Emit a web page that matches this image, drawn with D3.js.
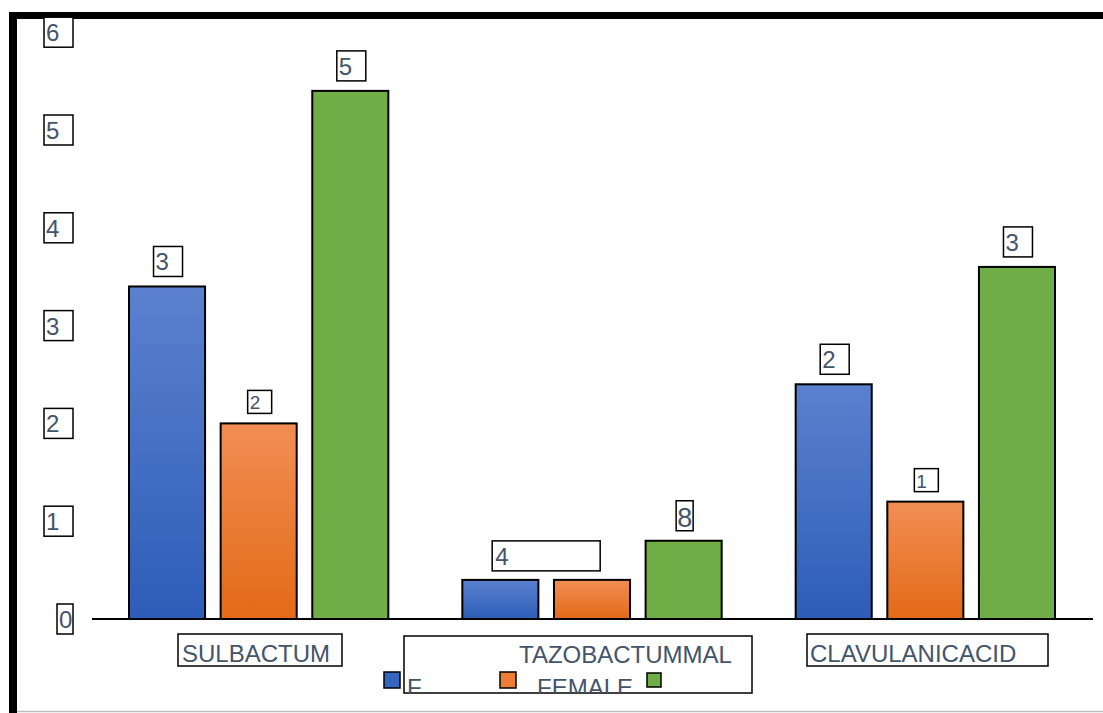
<!DOCTYPE html>
<html>
<head>
<meta charset="utf-8">
<script src="https://cdn.jsdelivr.net/npm/d3@7/dist/d3.min.js"></script>
<style>
  html, body { margin: 0; padding: 0; background: #fff; }
  svg { display: block; }
  text { font-family: "Liberation Sans", Arial, sans-serif; fill: #44546A; }
</style>
</head>
<body>
<svg id="chart" width="1103" height="713"></svg>
<script>
// Category names as printed under the axis
const categories = ["SULBACTUM", "TAZOBACTUMMAL", "CLAVULANICACID"];
// Series keys and the legend text printed beside each swatch
const seriesKeys = ["s1", "s2", "s3"];
const legendLabels = ["F", "FEMALE", ""];
// Bar values per series, one entry per category
const blueValues = [3.4, 0.4, 2.4];
const orangeValues = [2.0, 0.4, 1.2];
const greenValues = [5.4, 0.8, 3.6];
// Data-label text printed above each bar
const blueLabels = ["3", "4", "2"];
const orangeLabels = ["2", "4", "1"];
const greenLabels = ["5", "8", "3"];
// Y axis ticks
const yTicks = [0, 1, 2, 3, 4, 5, 6];

const seriesValues = [blueValues, orangeValues, greenValues];
const seriesLabels = [blueLabels, orangeLabels, greenLabels];

const svg = d3.select("#chart");
const W = 1103, H = 713;

// plot geometry
const plot = { left: 92, right: 1092, top: 32, bottom: 619 };

const x0 = d3.scaleBand().domain(categories).range([plot.left, plot.right]).paddingInner(0).paddingOuter(0);
const groupPad = 37;
const x1 = d3.scaleBand().domain(seriesKeys)
  .range([groupPad, x0.bandwidth() - groupPad]).paddingInner(0.17).paddingOuter(0);
const y = d3.scaleLinear().domain([0, 6]).range([plot.bottom, plot.bottom - 6 * 97.8]);

// gradients for blue and orange bars
const defs = svg.append("defs");
function vGrad(id, top, bottom) {
  const g = defs.append("linearGradient").attr("id", id)
    .attr("x1", 0).attr("y1", 0).attr("x2", 0).attr("y2", 1);
  g.append("stop").attr("offset", "0%").attr("stop-color", top);
  g.append("stop").attr("offset", "100%").attr("stop-color", bottom);
}
vGrad("gBlue", "#5B81CE", "#2D5DB8");
vGrad("gOrange", "#F28E54", "#E36A17");
const fills = { s1: "url(#gBlue)", s2: "url(#gOrange)", s3: "#70AD47" };
const swatchFills = { s1: "#3565C0", s2: "#EE7D33", s3: "#70AD47" };

// outer frame: heavy top and left rules, light bottom rule
svg.append("rect").attr("x", 9).attr("y", 12).attr("width", W - 9).attr("height", 7).attr("fill", "#000");
svg.append("rect").attr("x", 9).attr("y", 12).attr("width", 8).attr("height", H - 12).attr("fill", "#000");
svg.append("line").attr("x1", 17).attr("x2", W).attr("y1", 711.5).attr("y2", 711.5)
  .attr("stroke", "#BFBFBF").attr("stroke-width", 1.5);

// boxed y tick labels
const tickG = svg.append("g");
yTicks.forEach(t => {
  const boxRight = 73;
  const bw = t === 0 ? 16 : 29;
  const cy = y(t);
  tickG.append("rect").attr("x", boxRight - bw).attr("y", cy - 15).attr("width", bw).attr("height", 30)
    .attr("fill", "#fff").attr("stroke", "#000").attr("stroke-width", 1.5);
  tickG.append("text").attr("x", boxRight - bw + 2).attr("y", cy + 9)
    .attr("font-size", 24).text(t);
});

// bars
const rows = [];
categories.forEach((c, ci) => {
  seriesKeys.forEach((k, si) => {
    rows.push({ cat: c, ci, key: k, si, value: seriesValues[si][ci], label: seriesLabels[si][ci] });
  });
});

const barG = svg.append("g");
barG.selectAll("rect").data(rows).join("rect")
  .attr("x", d => x0(d.cat) + x1(d.key))
  .attr("y", d => y(d.value))
  .attr("width", x1.bandwidth())
  .attr("height", d => y(0) - y(d.value))
  .attr("fill", d => fills[d.key])
  .attr("stroke", "#000").attr("stroke-width", 2);

// baseline
svg.append("line").attr("x1", plot.left).attr("x2", plot.right + 1)
  .attr("y1", plot.bottom).attr("y2", plot.bottom).attr("stroke", "#000").attr("stroke-width", 2.2);

// data labels; equal neighbouring bars in a group share one wide box
const labelG = svg.append("g");
const smallSeries = { s2: true };
categories.forEach((c, ci) => {
  const grp = rows.filter(r => r.ci === ci);
  let skip = false;
  grp.forEach((d, i) => {
    if (skip) { skip = false; return; }
    const next = grp[i + 1];
    const cx = x0(d.cat) + x1(d.key) + x1.bandwidth() / 2;
    const top = y(d.value);
    if (next && next.value === d.value) {
      const cx2 = x0(next.cat) + x1(next.key) + x1.bandwidth() / 2;
      const mid = (cx + cx2) / 2, bw = 108, bh = 30;
      labelG.append("rect").attr("x", mid - bw / 2).attr("y", top - 9 - bh).attr("width", bw).attr("height", bh)
        .attr("fill", "#fff").attr("stroke", "#000").attr("stroke-width", 1.5);
      labelG.append("text").attr("x", mid - bw / 2 + 3).attr("y", top - 9 - bh + 24)
        .attr("font-size", 24).text(d.label);
      skip = true;
      return;
    }
    const small = smallSeries[d.key];
    const narrow = d.label === "8";
    const fs = small ? 19 : (narrow ? 27 : 24);
    const bw = small ? 24 : (narrow ? 17 : 29);
    const bh = small ? 23 : 30;
    const bx = cx + 1 - bw / 2;
    const by = top - 10 - bh;
    labelG.append("rect").attr("x", bx).attr("y", by).attr("width", bw).attr("height", bh)
      .attr("fill", "#fff").attr("stroke", "#000").attr("stroke-width", 1.5);
    const t = labelG.append("text").attr("x", bx + (narrow ? 1 : 2)).attr("y", by + (small ? 19 : (narrow ? 26 : 24)))
      .attr("font-size", fs).text(d.label);
    if (narrow) t.attr("textLength", 15).attr("lengthAdjust", "spacingAndGlyphs");
  });
});

// category labels
const catBoxes = [
  { x: 178, y: 634, w: 164, h: 32, tx: 182, ty: 662 },
  { x: 404, y: 636, w: 348, h: 57, tx: 519, ty: 663 },
  { x: 807, y: 634, w: 241, h: 32, tx: 810, ty: 662 }
];
categories.forEach((c, i) => {
  const b = catBoxes[i];
  svg.append("rect").attr("x", b.x).attr("y", b.y).attr("width", b.w).attr("height", b.h)
    .attr("fill", "#fff").attr("stroke", "#000").attr("stroke-width", 1.5);
  svg.append("text").attr("x", b.tx).attr("y", b.ty).attr("font-size", 24).text(c);
});

// legend: swatches with text clipped by the surrounding box
defs.append("clipPath").attr("id", "legClip")
  .append("rect").attr("x", 404).attr("y", 636).attr("width", 348).attr("height", 57);
const legendItems = [
  { sx: 384, sy: 672, s: 16, tx: 407 },
  { sx: 500, sy: 672, s: 16, tx: 537 },
  { sx: 647, sy: 673, s: 14, tx: 670 }
];
seriesKeys.forEach((k, i) => {
  const L = legendItems[i];
  svg.append("rect").attr("x", L.sx).attr("y", L.sy).attr("width", L.s).attr("height", L.s)
    .attr("fill", swatchFills[k]).attr("stroke", "#000").attr("stroke-width", 1.5);
  svg.append("text").attr("clip-path", "url(#legClip)")
    .attr("x", L.tx).attr("y", 696).attr("font-size", 24).text(legendLabels[i]);
});
</script>
</body>
</html>
